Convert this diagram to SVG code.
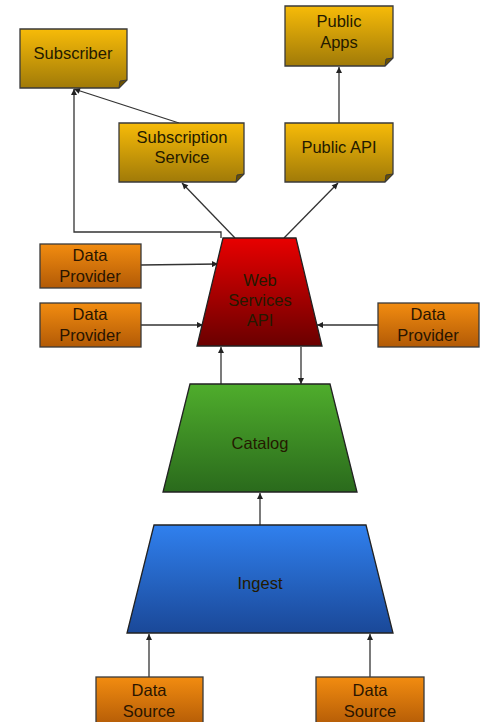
<svg xmlns="http://www.w3.org/2000/svg" width="481" height="722" viewBox="0 0 481 722">
<style>
text{font-family:"Liberation Sans",Arial,sans-serif;font-size:16.5px;text-anchor:middle;dominant-baseline:central;fill:#241a00}
.note{stroke:#3a3a3a;stroke-width:1.3;fill:url(#gold)}
.fold{fill:#6a5000;stroke:#3a3a3a;stroke-width:1}
.dp{stroke:#3a3a3a;stroke-width:1.3;fill:url(#orange)}
.dpt{fill:#2a1500}
.tr{stroke:#222;stroke-width:1.3}
.conn line,.conn polyline{stroke:#333;stroke-width:1.3;fill:none;marker-end:url(#ah)}
</style>
<defs>
<linearGradient id="gold" x1="0" y1="0" x2="0" y2="1"><stop offset="0" stop-color="#f7bb08"/><stop offset="1" stop-color="#a07a08"/></linearGradient>
<linearGradient id="orange" x1="0" y1="0" x2="0" y2="1"><stop offset="0" stop-color="#f28c10"/><stop offset="1" stop-color="#b25a06"/></linearGradient>
<linearGradient id="red" x1="0" y1="0" x2="0" y2="1"><stop offset="0" stop-color="#e80000"/><stop offset="1" stop-color="#6a0000"/></linearGradient>
<linearGradient id="green" x1="0" y1="0" x2="0" y2="1"><stop offset="0" stop-color="#4fad2c"/><stop offset="1" stop-color="#2a6a1c"/></linearGradient>
<linearGradient id="blue" x1="0" y1="0" x2="0" y2="1"><stop offset="0" stop-color="#3080ee"/><stop offset="1" stop-color="#1a4898"/></linearGradient>
<marker id="ah" viewBox="0 0 10 10" refX="10" refY="5" markerWidth="7" markerHeight="6" orient="auto" markerUnits="userSpaceOnUse"><path d="M0,0 L10,5 L0,10 Z" fill="#222"/></marker>
</defs>

<g class="conn" id="connectors">
<polyline points="221,238 221,232 74,232 74,89"/>
<line x1="179" y1="123" x2="74" y2="89"/>
<line x1="235" y1="238" x2="182" y2="183"/>
<line x1="284" y1="238" x2="338" y2="183"/>
<line x1="339" y1="123" x2="339" y2="67"/>
<line x1="141" y1="265" x2="218" y2="264"/>
<line x1="141" y1="325" x2="203" y2="325"/>
<line x1="378" y1="325" x2="317" y2="325"/>
<line x1="221" y1="384" x2="221" y2="347"/>
<line x1="301" y1="347" x2="301" y2="384"/>
<line x1="260" y1="525" x2="260" y2="493"/>
<line x1="149" y1="677" x2="149" y2="634"/>
<line x1="370" y1="677" x2="370" y2="634"/>
</g>

<g id="subscriber">
<path class="note" d="M20,29 H127 V80 L119,88 H20 Z"/>
<path class="fold" d="M127,80 L119,88 L120,81 Z"/>
<text x="73" y="53">Subscriber</text>
</g>
<g id="public-apps">
<path class="note" d="M285,6 H393 V58 L385,66 H285 Z"/>
<path class="fold" d="M393,58 L385,66 L386,59 Z"/>
<text x="339" y="21">Public</text>
<text x="339" y="42">Apps</text>
</g>
<g id="subscription-service">
<path class="note" d="M119,123 H244 V174 L236,182 H119 Z"/>
<path class="fold" d="M244,174 L236,182 L237,175 Z"/>
<text x="182" y="137">Subscription</text>
<text x="182" y="157">Service</text>
</g>
<g id="public-api">
<path class="note" d="M285,123 H393 V174 L385,182 H285 Z"/>
<path class="fold" d="M393,174 L385,182 L386,175 Z"/>
<text x="339" y="147">Public API</text>
</g>

<g id="web-services-api">
<polygon class="tr" points="223,238 296,238 322,346 197,346" fill="url(#red)"/>
<text x="260" y="280" fill="#4a0000">Web</text>
<text x="260" y="300" fill="#4a0000">Services</text>
<text x="260" y="320" fill="#4a0000">API</text>
</g>

<g id="data-provider-1">
<rect class="dp" x="40" y="244" width="101" height="44"/>
<text class="dpt" x="90" y="255">Data</text>
<text class="dpt" x="90" y="276">Provider</text>
</g>
<g id="data-provider-2">
<rect class="dp" x="40" y="303" width="101" height="44"/>
<text class="dpt" x="90" y="314">Data</text>
<text class="dpt" x="90" y="335">Provider</text>
</g>
<g id="data-provider-3">
<rect class="dp" x="378" y="303" width="101" height="44"/>
<text class="dpt" x="428" y="314">Data</text>
<text class="dpt" x="428" y="335">Provider</text>
</g>

<g id="catalog">
<polygon class="tr" points="190,384 330,384 357,492 163,492" fill="url(#green)"/>
<text x="260" y="443" fill="#0f2a08">Catalog</text>
</g>

<g id="ingest">
<polygon class="tr" points="154,525 366,525 393,633 127,633" fill="url(#blue)"/>
<text x="260" y="583" fill="#0a1a40">Ingest</text>
</g>

<g id="data-source-1">
<rect class="dp" x="96" y="677" width="107" height="50"/>
<text class="dpt" x="149" y="690">Data</text>
<text class="dpt" x="149" y="711">Source</text>
</g>
<g id="data-source-2">
<rect class="dp" x="316" y="677" width="108" height="50"/>
<text class="dpt" x="370" y="690">Data</text>
<text class="dpt" x="370" y="711">Source</text>
</g>
</svg>
